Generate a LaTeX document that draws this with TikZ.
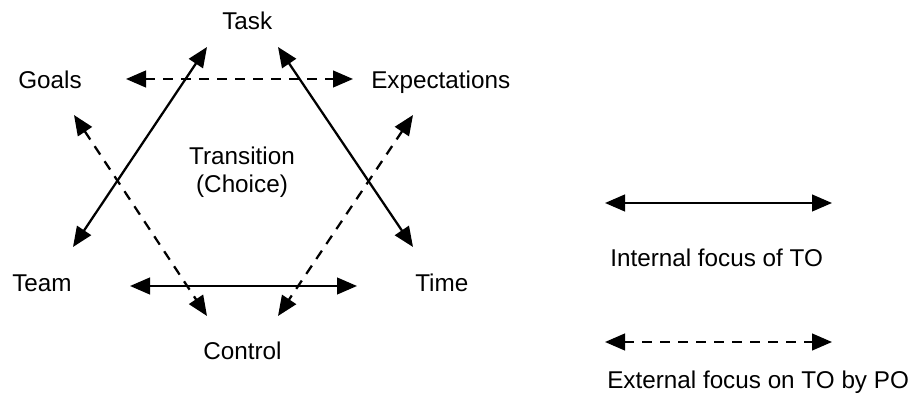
\documentclass[tikz,border=0pt]{standalone}
\usepackage{fontspec}
\setmainfont{Liberation Sans}
\usetikzlibrary{arrows.meta}
\begin{document}
\begin{tikzpicture}[x=0.75pt,y=-0.75pt,
  lbl/.style={font=\fontsize{18.2}{22}\selectfont, inner sep=0pt, anchor=base west},
  ctr/.style={font=\fontsize{18.2}{22}\selectfont, inner sep=0pt, anchor=base},
  link/.style={line width=1.7pt, {Triangle[length=15pt,width=12.5pt]}-{Triangle[length=15pt,width=12.5pt]}},
  ext/.style={link, dash pattern=on 7.5pt off 6pt}]
\useasboundingbox (0,0) rectangle (916,398);
% labels
\node[lbl] (task) at (222,30) {Task};
\node[lbl] (goals) at (18,89) {Goals};
\node[lbl] (expect) at (371,89) {Expectations};
\node[ctr] (trans) at (242,165) {Transition};
\node[ctr] (choice) at (242,193) {(Choice)};
\node[lbl] (team) at (12,292) {Team};
\node[lbl] (time) at (415,292) {Time};
\node[lbl] (control) at (203,359) {Control};
\node[lbl] (internal) at (610,267) {Internal focus of TO};
\node[lbl] (external) at (607,388) {External focus on TO by PO};
% arrow end points
\coordinate (gE) at (126,79);
\coordinate (eE) at (353,79);
\coordinate (tmE) at (130,286);
\coordinate (tiE) at (357,286);
\coordinate (teamA) at (73,247);
\coordinate (taskA) at (207,47);
\coordinate (taskB) at (278,47);
\coordinate (timeB) at (413,247);
\coordinate (goalsC) at (74,115);
\coordinate (ctrlG) at (207,316);
\coordinate (expC) at (413,115);
\coordinate (ctrlE) at (278,316);
\coordinate (l1a) at (605,203);
\coordinate (l1b) at (832,203);
\coordinate (l2a) at (605,342);
\coordinate (l2b) at (832,342);
% connectors
\draw[ext] (gE) -- (eE);
\draw[link] (tmE) -- (tiE);
\draw[link] (teamA) -- (taskA);
\draw[link] (taskB) -- (timeB);
\draw[ext] (goalsC) -- (ctrlG);
\draw[ext] (expC) -- (ctrlE);
\draw[link] (l1a) -- (l1b);
\draw[ext] (l2a) -- (l2b);
\end{tikzpicture}
\end{document}
